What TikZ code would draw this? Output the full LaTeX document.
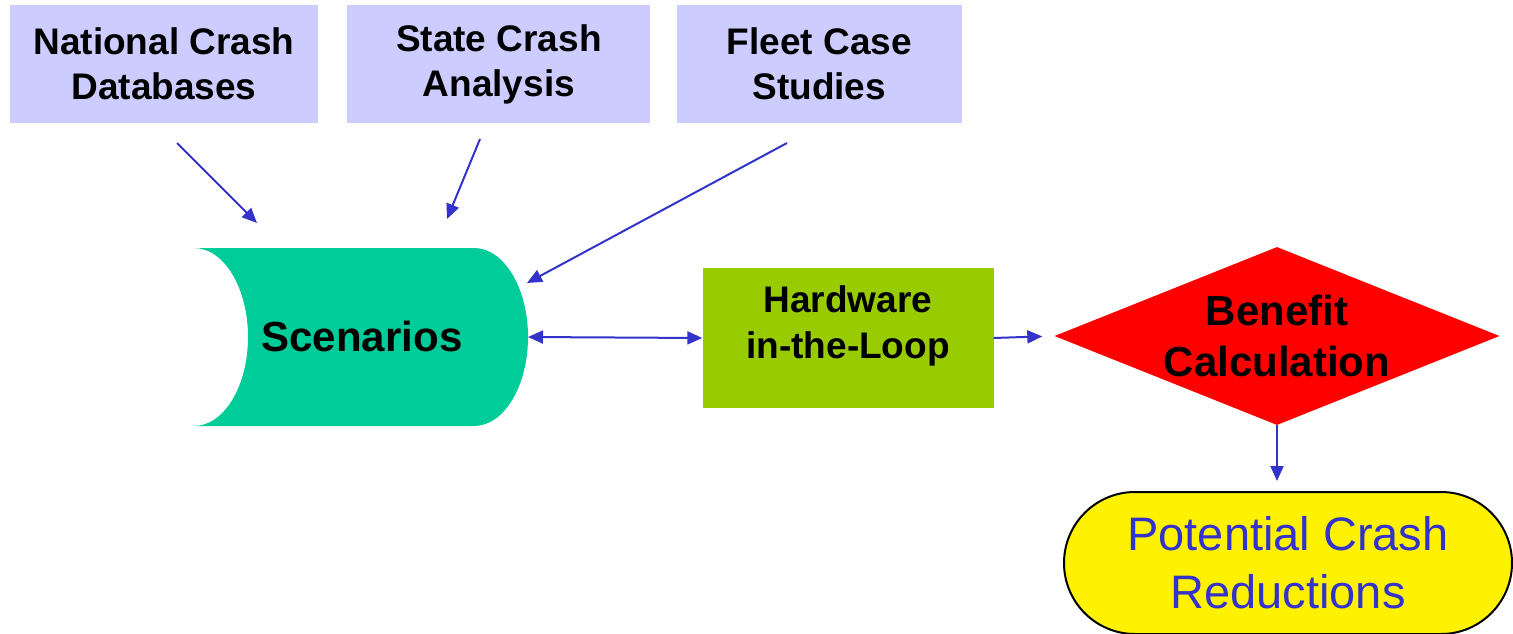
\documentclass[tikz,border=0pt]{standalone}
\usepackage{fontspec}
\setmainfont{Liberation Sans}
\usetikzlibrary{positioning,arrows.meta,shapes.geometric}
\definecolor{srcblue}{RGB}{204,204,255}
\definecolor{scengreen}{RGB}{0,204,153}
\definecolor{hilgreen}{RGB}{153,204,0}
\definecolor{flowblue}{RGB}{51,51,204}
\tikzset{
  srcbox/.style={fill=srcblue, align=center, inner sep=0pt, minimum height=118pt, font=\bfseries\fontsize{37}{45}\selectfont},
  scenlabel/.style={align=center, font=\bfseries\fontsize{42}{50}\selectfont},
  hwbox/.style={fill=hilgreen, minimum width=291pt, minimum height=140pt, inner sep=0pt},
  hwlabel/.style={align=center, font=\bfseries\fontsize{37}{46}\selectfont},
  decision/.style={diamond, fill=red, aspect=2.5, minimum width=445pt, minimum height=178pt, inner sep=0pt, align=center, font=\bfseries\fontsize{42}{51}\selectfont},
  outcome/.style={draw=black, line width=2pt, fill=yellow, rounded corners=71pt, minimum width=448pt, minimum height=142pt, text=flowblue, align=center, font=\fontsize{47}{58}\selectfont},
  arrow/.style={-{Triangle[length=15pt,width=13pt]}, line width=2pt, flowblue},
  twoway/.style={{Triangle[length=15pt,width=13pt]}-{Triangle[length=15pt,width=13pt]}, line width=2pt, flowblue}
}
\begin{document}
\begin{tikzpicture}[x=1pt, y=-1pt]
  \useasboundingbox (0,0) rectangle (1513,634);
  % data sources
  \node[srcbox, minimum width=308pt] (nat) at (164,64) {National Crash\\Databases};
  \node[srcbox, minimum width=303pt, right=29pt of nat] (state) {State Crash\\Analysis};
  \node[srcbox, minimum width=285pt, right=26pt of state] (fleet) {Fleet Case\\Studies};
  % scenario store
  \fill[scengreen] (194,248) -- (474,248)
    .. controls (504,248) and (528,288) .. (528,337) coordinate (scenE)
    .. controls (528,386) and (504,426) .. (474,426) -- (194,426)
    .. controls (224,426) and (248,386) .. (248,337)
    .. controls (248,288) and (224,248) .. (194,248) -- cycle;
  \node[scenlabel] (scen) at (362,336) {Scenarios};
  \node[hwbox] (hw) at (848,338) {};
  \node[hwlabel] (hwtxt) at ([yshift=12pt]hw.center) {Hardware\\in-the-Loop};
  \node[decision] (ben) at (1277,336) {Benefit\\Calculation};
  \node[outcome] (pot) at (1288,563) {Potential Crash\\Reductions};
  % arrow ends
  \coordinate (natA) at (177,143);  \coordinate (natB) at (257,223);
  \coordinate (stateA) at (480,139); \coordinate (stateB) at (447,219);
  \coordinate (fleetA) at (787,143); \coordinate (fleetB) at (527,283);
  \foreach \a/\b in {natA/natB,stateA/stateB,fleetA/fleetB}{\draw[arrow] (\a) -- (\b);}
  \draw[twoway] (scenE) -- (hw.west);
  \draw[arrow, shorten >=12pt] (hw.east) -- (ben.west);
  \draw[arrow, shorten >=10pt] (ben.south) -- (ben.south |- pot.north);
\end{tikzpicture}
\end{document}
